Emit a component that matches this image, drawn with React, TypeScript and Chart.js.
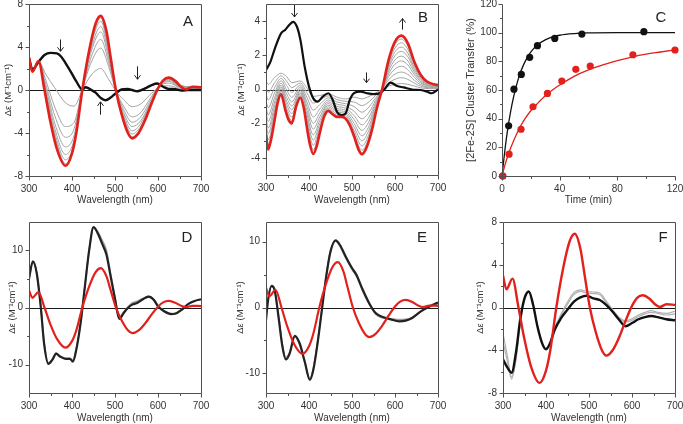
import React, { useEffect, useRef } from 'react';
import { Chart, registerables } from 'chart.js';
Chart.register(...registerables);

const FONT = '"Liberation Sans", Arial, Helvetica, sans-serif';
const RED = '#e2201c';
const BLACK = '#111111';
const GRAY = '#a3a3a3';

// ---------- shared red spectrum (A, D, E, F) ----------
const RED_X = [300,308,322,336,350,365,385,400,410,424,440,455,467,480,490,502,515,530,540,555,570,585,600,612,625,640,655,665,680,700];
const RED_Y = [3.0,1.7,2.7,0,-3.0,-5.5,-7.05,-5.9,-4.0,0,3.7,6.2,6.9,5.5,3.0,0,-2.2,-4.0,-4.5,-4.0,-2.8,-1.25,0.15,0.9,1.15,0.85,0.25,0.05,0.3,0.25];

// ---------- panel A ----------
const BA_X = [300,308,322,336,350,365,375,385,400,410,424,432,445,455,467,478,490,502,515,530,540,552,570,585,598,612,625,640,655,670,685,700];
const BA_Y = [3.0,1.9,2.6,3.25,3.45,3.4,3.1,2.5,1.5,0.8,0.05,0.25,0.0,-0.25,-0.75,-0.95,-0.7,-0.3,0.05,0.1,0,-0.12,0.15,0.45,0.6,0.3,0.1,0.08,-0.05,0,0,0];
const GA_X = [300,308,322,340,360,385,405,424,445,467,485,502,520,540,560,580,600,625,650,700];
const GA1 = [3.0,1.9,2.65,1.4,0.2,-1.2,-1.5,0,1.4,2.0,1.0,-0.1,-0.9,-1.55,-1.3,-0.5,0.2,0.4,0.15,0.1];
const GA2 = [3.0,1.85,2.65,0.8,-1.6,-3.4,-3.0,0,2.6,3.9,2.2,-0.05,-1.5,-2.5,-2.1,-0.9,0.25,0.65,0.25,0.15];
const GA3 = [3.0,1.8,2.65,0.4,-2.4,-4.4,-3.6,0,3.1,4.7,2.6,0,-1.8,-3.0,-2.5,-1.15,0.2,0.8,0.3,0.2];
const GA4 = [3.0,1.8,2.7,0.1,-3.1,-5.3,-4.2,0,3.6,5.4,3.0,0,-2.1,-3.4,-2.85,-1.35,0.2,0.9,0.35,0.2];
const GA5 = [3.0,1.75,2.7,-0.2,-3.6,-6.0,-4.6,0,3.9,5.9,3.3,0,-2.35,-3.8,-3.1,-1.5,0.18,1.0,0.4,0.22];
const GA6 = [3.0,1.72,2.7,-0.5,-4.0,-6.5,-4.9,0,4.25,6.4,3.6,0,-2.55,-4.1,-3.35,-1.65,0.16,1.05,0.42,0.23];
const GA7 = [3.0,1.7,2.7,-0.7,-4.3,-6.85,-5.2,0,4.45,6.7,3.8,0,-2.7,-4.35,-3.55,-1.75,0.15,1.1,0.44,0.24];
const ARROW_A_X = [373, 465, 552];
const ARROW_A_TOP = [4.7, -1.1, 2.2];
const ARROW_A_BOT = [3.6, -2.3, 1.0];
const ARROW_A_DIR = ['down', 'up', 'down'];

// ---------- panel B ----------
const RB_X = [300,305,312,320,327,335,345,352,360,370,380,388,395,402,410,418,425,435,445,455,465,475,485,495,505,515,523,532,540,548,555,562,570,585,600,615,630,645,660,675,690,700];
const RB_Y = [-2.65,-3.5,-2.9,-1.8,-0.8,-0.28,-1.2,-1.75,-1.98,-1.0,-0.48,-1.1,-2.2,-3.2,-3.77,-3.3,-2.55,-1.6,-1.25,-1.45,-1.6,-1.6,-1.7,-2.1,-2.75,-3.5,-3.78,-3.5,-2.95,-2.2,-1.4,-0.7,0,1.72,2.8,3.15,2.7,1.62,0.85,0.45,0.3,0.26];
const BB_X = [300,310,320,335,345,355,363,372,380,390,400,410,420,432,445,455,465,475,485,495,505,520,535,550,565,575,590,605,620,640,660,675,685,700];
const BB_Y = [1.14,1.6,2.35,3.28,3.5,3.8,3.96,3.67,2.9,1.33,0.17,-0.52,-0.71,-0.42,-0.22,-0.6,-1.3,-1.5,-1.4,-0.6,-0.2,-0.13,-0.22,-0.27,-0.22,0,0.4,0.2,0.12,0,-0.03,-0.13,-0.22,0];
const GB_X = [300,305,320,335,348,360,380,395,410,425,445,465,485,505,523,540,555,570,585,600,615,630,645,660,680,700];
const GB0 = [0.5,0.3,0.7,0.95,0.75,0.4,0.5,0.1,-0.4,-0.35,-0.25,-0.45,-0.55,-0.45,-0.55,-0.4,-0.2,0,0.2,0.3,0.35,0.3,0.2,0.1,0.05,0.05];
const GB1 = [0.12,-0.16,0.4,0.8,0.49,0.11,0.38,-0.18,-0.8,-0.61,-0.37,-0.59,-0.69,-0.73,-0.94,-0.71,-0.34,0,0.38,0.6,0.69,0.59,0.37,0.19,0.09,0.08];
const GB2 = [-0.26,-0.61,0.1,0.65,0.23,-0.17,0.26,-0.45,-1.21,-0.88,-0.49,-0.73,-0.83,-1.0,-1.33,-1.01,-0.49,0,0.56,0.9,1.02,0.88,0.54,0.28,0.13,0.1];
const GB3 = [-0.63,-1.07,-0.2,0.51,-0.02,-0.46,0.15,-0.73,-1.61,-1.14,-0.61,-0.86,-0.96,-1.28,-1.71,-1.32,-0.63,0,0.75,1.2,1.36,1.16,0.71,0.37,0.18,0.13];
const GB4 = [-0.98,-1.49,-0.48,0.37,-0.26,-0.72,0.04,-0.98,-1.98,-1.38,-0.72,-0.99,-1.09,-1.53,-2.07,-1.6,-0.76,0,0.91,1.48,1.67,1.43,0.87,0.45,0.21,0.15];
const GB5 = [-1.3,-1.87,-0.73,0.25,-0.48,-0.96,-0.06,-1.21,-2.32,-1.6,-0.82,-1.11,-1.21,-1.76,-2.39,-1.85,-0.88,0,1.07,1.73,1.95,1.67,1.01,0.53,0.25,0.17];
const GB6 = [-1.61,-2.25,-0.98,0.13,-0.69,-1.19,-0.16,-1.44,-2.66,-1.82,-0.92,-1.22,-1.32,-1.99,-2.71,-2.11,-1.0,0,1.22,1.98,2.23,1.91,1.15,0.6,0.28,0.19];
const GB7 = [-1.89,-2.59,-1.2,0.02,-0.88,-1.41,-0.24,-1.65,-2.96,-2.02,-1.01,-1.32,-1.42,-2.2,-3.0,-2.34,-1.11,0,1.36,2.2,2.48,2.12,1.28,0.67,0.32,0.21];
const GB8 = [-2.18,-2.93,-1.43,-0.1,-1.08,-1.62,-0.33,-1.86,-3.26,-2.22,-1.1,-1.43,-1.53,-2.41,-3.3,-2.57,-1.22,0,1.49,2.43,2.73,2.34,1.41,0.74,0.35,0.23];
const GB9 = [-2.43,-3.23,-1.63,-0.19,-1.25,-1.81,-0.41,-2.04,-3.53,-2.4,-1.18,-1.52,-1.62,-2.59,-3.55,-2.77,-1.32,0,1.61,2.63,2.95,2.53,1.52,0.8,0.38,0.25];
const ARROW_B_X = [366, 617, 532];
const ARROW_B_TOP = [4.94, 4.15, 1.0];
const ARROW_B_BOT = [4.24, 3.5, 0.4];
const ARROW_B_DIR = ['down', 'up', 'down'];

// ---------- panel C ----------
const CB_T = [0.5,4.6,8.3,13.4,19.2,24.6,36.6,55.4,98.4];
const CB_V = [0,35,60.6,70.9,82.8,90.9,96,99,100.7];
const CR_T = [0.5,4.9,13.2,21.5,31.5,41.5,51.2,61.2,90.8,120];
const CR_V = [0,15.2,32.6,48.3,57.6,66.2,74.4,76.7,84.6,87.9];
const CBF_T = [0,2,4,6,8,10,12,15,18,21,25,30,35,40,50,60,80,100,120];
const CBF_V = [0,18,33,45,55,63,70,77.7,83.5,87.8,91.8,95,97,98.2,99.3,99.8,100,100,100];
const CRF_T = [0,2,4,6,8,10,13,16,20,25,30,35,40,50,60,70,80,90,100,110,120];
const CRF_V = [0,7.5,14,19.5,24.5,29,35,40,45.5,51,56,60,63.5,69.5,74,77.5,80.5,83,85,86.5,88];

// ---------- panel D ----------
const BD_X = [300,309,318,328,335,345,355,363,372,385,395,402,410,420,430,440,450,460,470,480,490,500,510,520,530,540,550,565,578,590,600,615,630,640,655,670,685,700];
const BD_Y = [5.1,8.1,6.0,-0.4,-6.3,-9.9,-9.1,-8.1,-8.6,-9.0,-9.0,-9.5,-7.4,-2.75,3.7,10.1,14.1,13.0,11.2,9.3,5.4,1.5,-2.0,-1.0,-0.1,0.5,0.75,1.45,1.9,1.35,0.2,-0.7,-1.15,-1.1,-0.4,0.6,1.15,1.45];
const GD_Y = [5.0,8.0,6.1,-0.2,-6.0,-9.7,-9.0,-8.0,-8.5,-8.9,-8.9,-9.3,-7.2,-2.6,3.8,10.0,14.0,13.3,11.8,10.0,5.8,1.8,-1.8,-0.8,0.1,0.8,1.05,1.6,1.95,1.45,0.4,-0.6,-1.05,-1.0,-0.35,0.6,1.1,1.4];

// ---------- panel E ----------
const BE_X = [300,305,313,320,330,338,346,355,367,378,390,402,410,420,430,440,450,462,472,485,500,510,525,540,555,570,590,610,625,640,660,680,700];
const BE_Y = [-1.9,1.2,3.3,2.7,-1.9,-5.9,-7.9,-7.0,-4.3,-5.4,-8.2,-11.0,-9.5,-5.4,-0.35,4.7,8.5,10.2,9.5,7.8,6.0,5.0,2.7,0.65,-0.85,-1.4,-1.8,-2.1,-2.0,-1.6,-0.6,0.15,0.75];
const GE_Y = [-1.2,1.5,3.2,2.6,-1.7,-5.6,-7.6,-6.8,-4.4,-5.6,-8.3,-10.8,-9.3,-5.2,-0.2,4.8,8.6,10.1,9.3,7.6,5.8,4.8,2.5,0.5,-1.0,-1.55,-1.7,-1.85,-1.8,-1.5,-0.6,0.1,0.6];

// ---------- panel F ----------
const BF_X = [300,310,320,330,340,350,360,370,380,392,400,410,420,435,450,465,480,495,510,525,540,555,570,585,600,615,630,645,660,680,700];
const BF_Y = [-4.85,-5.6,-6.1,-4.25,-1.15,0.85,1.5,0.25,-1.75,-3.45,-3.9,-3.3,-2.1,-1.0,-0.2,0.55,0.95,1.1,0.85,0.7,0.25,-0.4,-1.15,-1.75,-1.45,-1.1,-0.9,-0.8,-0.9,-1.1,-1.2];
const GF1 = [-2.4,-4.5,-6.5,-5.0,-1.5,0.8,1.5,0.3,-1.7,-3.4,-3.9,-3.2,-1.9,-0.6,0.5,1.4,1.65,1.5,1.45,1.35,0.6,-0.2,-0.9,-1.25,-1.05,-0.7,-0.45,-0.3,-0.45,-0.55,-0.35];
const GF2 = [-3.2,-5.0,-6.7,-4.8,-1.3,0.85,1.5,0.28,-1.7,-3.4,-3.85,-3.25,-2.0,-0.75,0.3,1.2,1.5,1.35,1.3,1.2,0.45,-0.3,-1.0,-1.35,-1.2,-0.85,-0.6,-0.45,-0.55,-0.7,-0.6];

// ---------- axes ----------
const WL_MAJOR = [300, 400, 500, 600, 700];
const WL_MINOR = [350, 450, 550, 650];
const A_Y_MAJOR = [-8, -4, 0, 4, 8];
const A_Y_MINOR = [-6, -2, 2, 6];
const B_Y_MAJOR = [-4, -2, 0, 2, 4];
const B_Y_MINOR = [-3, -1, 1, 3];
const C_X_MAJOR = [0, 40, 80, 120];
const C_X_MINOR = [20, 60, 100];
const C_Y_MAJOR = [0, 20, 40, 60, 80, 100, 120];
const C_Y_MINOR = [10, 30, 50, 70, 90, 110];
const DE_Y_MAJOR = [-10, 0, 10];
const DE_Y_MINOR = [-5, 5];

const WL_TITLE = 'Wavelength (nm)';
const DE_TITLE = 'Δε (M⁻¹cm⁻¹)';

function pts(xs: number[], ys: number[]) {
  return xs.map((x, i) => ({ x, y: ys[i] }));
}
function line(xs: number[], ys: number[], color: string, width: number): any {
  return { data: pts(xs, ys), borderColor: color, backgroundColor: color, borderWidth: width, pointRadius: 0, fill: false, cubicInterpolationMode: 'monotone' };
}
function dots(xs: number[], ys: number[], color: string): any {
  return { data: pts(xs, ys), showLine: false, pointRadius: 3.6, pointBackgroundColor: color, pointBorderWidth: 0, borderColor: color, clip: false };
}

const deco = {
  id: 'deco',
  beforeDatasetsDraw(chart: any, _a: any, o: any) {
    if (!o.zero) return;
    const { ctx, chartArea: ca, scales } = chart;
    const y0 = Math.round(scales.y.getPixelForValue(0)) + 0.5;
    ctx.save();
    ctx.strokeStyle = '#1a1a1a';
    ctx.lineWidth = 1.2;
    ctx.beginPath();
    ctx.moveTo(ca.left, y0);
    ctx.lineTo(ca.right, y0);
    ctx.stroke();
    ctx.restore();
  },
  afterDatasetsDraw(chart: any, _a: any, o: any) {
    const { ctx, chartArea: ca, scales } = chart;
    const x = scales.x, y = scales.y;
    const L = ca.left + 0.5, R = ca.right + 0.5, T = ca.top + 0.5, B = ca.bottom + 0.5;
    ctx.save();
    ctx.strokeStyle = '#505050';
    ctx.lineWidth = 1;
    ctx.beginPath();
    if (o.box) {
      ctx.rect(L, T, R - L, B - T);
    } else {
      ctx.moveTo(L, T); ctx.lineTo(L, B); ctx.lineTo(R, B);
    }
    ctx.stroke();
    ctx.beginPath();
    const tx = (vals: number[], len: number) => vals.forEach((v) => {
      const px = Math.round(x.getPixelForValue(v)) + 0.5;
      ctx.moveTo(px, B); ctx.lineTo(px, B + len);
    });
    const ty = (vals: number[], len: number) => vals.forEach((v) => {
      const py = Math.round(y.getPixelForValue(v)) + 0.5;
      ctx.moveTo(L - len, py); ctx.lineTo(L, py);
    });
    tx(o.xMajor, 4); tx(o.xMinor, 2.5); ty(o.yMajor, 4); ty(o.yMinor, 2.5);
    ctx.stroke();

    // titles
    ctx.fillStyle = '#333';
    ctx.textAlign = 'center';
    ctx.textBaseline = 'middle';
    ctx.font = `10px ${FONT}`;
    ctx.fillText(o.xTitle, (ca.left + ca.right) / 2, o.xTitleY);
    ctx.save();
    ctx.translate(o.yTitleX, (ca.top + ca.bottom) / 2);
    ctx.rotate(-Math.PI / 2);
    ctx.font = `${o.yTitleSize}px ${FONT}`;
    ctx.fillText(o.yTitle, 0, 0);
    ctx.restore();

    // panel letter
    ctx.fillStyle = '#222';
    ctx.font = `15px ${FONT}`;
    ctx.fillText(o.letter, ca.right + o.letterDX, ca.top + o.letterDY);

    // arrows
    ctx.strokeStyle = '#222';
    ctx.lineWidth = 1;
    (o.arrowX || []).forEach((ax: number, i: number) => {
      const px = Math.round(x.getPixelForValue(ax)) + 0.5;
      const pt = y.getPixelForValue(o.arrowTop[i]);
      const pb = y.getPixelForValue(o.arrowBot[i]);
      ctx.beginPath();
      ctx.moveTo(px, pt); ctx.lineTo(px, pb);
      if (o.arrowDir[i] === 'down') {
        ctx.moveTo(px - 3, pb - 4); ctx.lineTo(px, pb); ctx.lineTo(px + 3, pb - 4);
      } else {
        ctx.moveTo(px - 3, pt + 4); ctx.lineTo(px, pt); ctx.lineTo(px + 3, pt + 4);
      }
      ctx.stroke();
    });
    ctx.restore();
  },
};

type Spec = {
  left: number; top: number; w: number; h: number;
  plot: number[]; // left, top, right, bottom (canvas coords)
  xr: number[]; yr: number[];
  datasets: any[];
  deco: any;
  xPad: number; yPad: number;
};

function buildConfig(s: Spec): any {
  const zeroPad = (a: any) => { a.paddingLeft = 0; a.paddingRight = 0; a.paddingTop = 0; a.paddingBottom = 0; };
  const tickFont = { family: FONT, size: 10 };
  return {
    type: 'line',
    data: { datasets: s.datasets },
    options: {
      responsive: false,
      animation: false,
      events: [],
      layout: { padding: { left: 0, top: s.plot[1], right: s.w - s.plot[2], bottom: 0 } },
      plugins: { legend: { display: false }, tooltip: { enabled: false }, deco: s.deco },
      scales: {
        x: {
          type: 'linear', min: s.xr[0], max: s.xr[1],
          grid: { display: false, drawTicks: false }, border: { display: false },
          afterBuildTicks: (a: any) => { a.ticks = s.deco.xMajor.map((v: number) => ({ value: v })); },
          afterFit: (a: any) => { a.height = s.h - s.plot[3]; zeroPad(a); },
          ticks: { autoSkip: false, maxRotation: 0, minRotation: 0, padding: s.xPad, color: '#333', font: tickFont, callback: (v: any) => String(v) },
        },
        y: {
          type: 'linear', min: s.yr[0], max: s.yr[1],
          grid: { display: false, drawTicks: false }, border: { display: false },
          afterBuildTicks: (a: any) => { a.ticks = s.deco.yMajor.map((v: number) => ({ value: v })); },
          afterFit: (a: any) => { a.width = s.plot[0]; zeroPad(a); },
          ticks: { autoSkip: false, padding: s.yPad, color: '#333', font: tickFont, callback: (v: any) => String(v) },
        },
      },
    },
    plugins: [deco],
  };
}

function Panel({ spec }: { spec: Spec }) {
  const ref = useRef<HTMLCanvasElement | null>(null);
  useEffect(() => {
    const c = new Chart(ref.current as HTMLCanvasElement, buildConfig(spec));
    return () => c.destroy();
  }, []);
  return (
    <canvas
      ref={ref}
      width={spec.w}
      height={spec.h}
      style={{ position: 'absolute', left: spec.left, top: spec.top, width: spec.w, height: spec.h }}
    />
  );
}

const specs: Spec[] = [
  {
    left: 0, top: 0, w: 228, h: 212, plot: [29, 4, 201, 176], xr: [300, 700], yr: [-8, 8], xPad: 7, yPad: 6,
    datasets: [
      line(RED_X, RED_Y, RED, 2.6),
      line(BA_X, BA_Y, BLACK, 2.4),
      line(GA_X, GA7, GRAY, 1), line(GA_X, GA6, GRAY, 1), line(GA_X, GA5, GRAY, 1), line(GA_X, GA4, GRAY, 1),
      line(GA_X, GA3, GRAY, 1), line(GA_X, GA2, GRAY, 1), line(GA_X, GA1, GRAY, 1),
    ],
    deco: { box: true, zero: true, xMajor: WL_MAJOR, xMinor: WL_MINOR, yMajor: A_Y_MAJOR, yMinor: A_Y_MINOR,
      xTitle: WL_TITLE, yTitle: DE_TITLE, xTitleY: 200, yTitleX: 8, yTitleSize: 9.5, letter: 'A', letterDX: -13, letterDY: 18,
      arrowX: ARROW_A_X, arrowTop: ARROW_A_TOP, arrowBot: ARROW_A_BOT, arrowDir: ARROW_A_DIR },
  },
  {
    left: 228, top: 0, w: 228, h: 212, plot: [38, 4, 210, 175], xr: [300, 700], yr: [-5, 5], xPad: 7, yPad: 6,
    datasets: [
      line(RB_X, RB_Y, RED, 2.6),
      line(BB_X, BB_Y, BLACK, 2.2),
      ...[GB9, GB8, GB7, GB6, GB5, GB4, GB3, GB2, GB1, GB0].map((g) => line(GB_X, g, GRAY, 1)),
    ],
    deco: { box: true, zero: true, xMajor: WL_MAJOR, xMinor: WL_MINOR, yMajor: B_Y_MAJOR, yMinor: B_Y_MINOR,
      xTitle: WL_TITLE, yTitle: DE_TITLE, xTitleY: 200, yTitleX: 13, yTitleSize: 9.5, letter: 'B', letterDX: -15, letterDY: 14,
      arrowX: ARROW_B_X, arrowTop: ARROW_B_TOP, arrowBot: ARROW_B_BOT, arrowDir: ARROW_B_DIR },
  },
  {
    left: 456, top: 0, w: 227, h: 212, plot: [46, 4, 219, 176], xr: [0, 120], yr: [0, 120], xPad: 7, yPad: 5,
    datasets: [
      dots(CR_T, CR_V, RED),
      line(CRF_T, CRF_V, RED, 1.3),
      dots(CB_T, CB_V, BLACK),
      line(CBF_T, CBF_V, BLACK, 1.3),
    ],
    deco: { box: false, zero: false, xMajor: C_X_MAJOR, xMinor: C_X_MINOR, yMajor: C_Y_MAJOR, yMinor: C_Y_MINOR,
      xTitle: 'Time (min)', yTitle: '[2Fe-2S] Cluster Transfer (%)', xTitleY: 200, yTitleX: 15, yTitleSize: 11, letter: 'C', letterDX: -14, letterDY: 14 },
  },
  {
    left: 0, top: 212, w: 228, h: 212, plot: [29, 10, 201, 181], xr: [300, 700], yr: [-15, 15], xPad: 7, yPad: 6,
    datasets: [
      line(RED_X, RED_Y, RED, 2.2),
      line(BD_X, BD_Y, '#222222', 2.2),
      line(BD_X, GD_Y, '#9a9a9a', 1.6),
    ],
    deco: { box: true, zero: true, xMajor: WL_MAJOR, xMinor: WL_MINOR, yMajor: DE_Y_MAJOR, yMinor: DE_Y_MINOR,
      xTitle: WL_TITLE, yTitle: DE_TITLE, xTitleY: 206, yTitleX: 12, yTitleSize: 9.5, letter: 'D', letterDX: -14, letterDY: 16 },
  },
  {
    left: 228, top: 212, w: 228, h: 212, plot: [38, 10, 210, 181], xr: [300, 700], yr: [-13, 13], xPad: 7, yPad: 6,
    datasets: [
      line(RED_X, RED_Y, RED, 2.2),
      line(BE_X, BE_Y, '#222222', 2.2),
      line(BE_X, GE_Y, '#9a9a9a', 1.6),
    ],
    deco: { box: true, zero: true, xMajor: WL_MAJOR, xMinor: WL_MINOR, yMajor: DE_Y_MAJOR, yMinor: DE_Y_MINOR,
      xTitle: WL_TITLE, yTitle: DE_TITLE, xTitleY: 206, yTitleX: 12, yTitleSize: 9.5, letter: 'E', letterDX: -16, letterDY: 16 },
  },
  {
    left: 456, top: 212, w: 227, h: 212, plot: [47, 10, 219, 181], xr: [300, 700], yr: [-8, 8], xPad: 7, yPad: 6,
    datasets: [
      line(RED_X, RED_Y, RED, 2.4),
      line(BF_X, BF_Y, BLACK, 2.4),
      line(BF_X, GF1, '#b0b0b0', 1.2),
      line(BF_X, GF2, '#b0b0b0', 1.2),
    ],
    deco: { box: true, zero: true, xMajor: WL_MAJOR, xMinor: WL_MINOR, yMajor: A_Y_MAJOR, yMinor: A_Y_MINOR,
      xTitle: WL_TITLE, yTitle: DE_TITLE, xTitleY: 206, yTitleX: 24, yTitleSize: 9.5, letter: 'F', letterDX: -12, letterDY: 16 },
  },
];

export default function App() {
  return (
    <div style={{ position: 'absolute', left: 0, top: 0, width: 683, height: 424, background: '#fff', overflow: 'hidden' }}>
      {specs.map((s, i) => <Panel key={i} spec={s} />)}
    </div>
  );
}
